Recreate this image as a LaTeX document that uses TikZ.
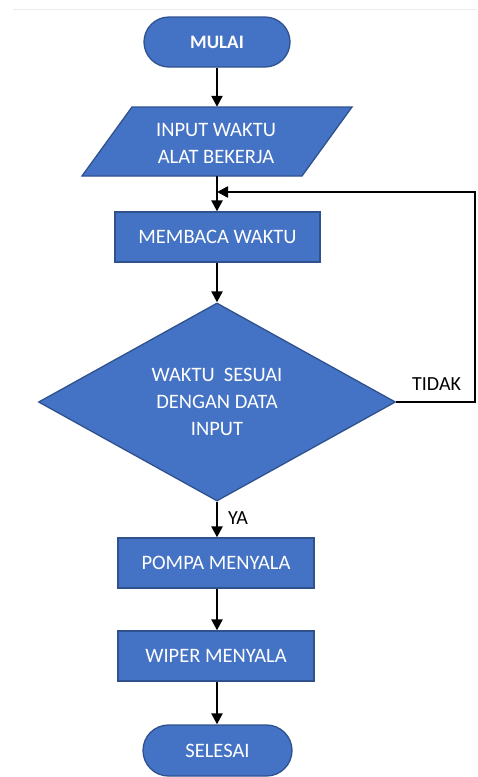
\documentclass[tikz,border=0pt]{standalone}
\usepackage{fontspec}
\setmainfont{Carlito}
\usetikzlibrary{shapes.geometric,shapes.misc,arrows.meta}
\definecolor{boxblue}{HTML}{4472C4}
\definecolor{boxedge}{HTML}{2F528F}
\begin{document}
\begin{tikzpicture}[x=1pt,y=-1pt,
  blk/.style={fill=boxblue,draw=boxedge,line width=1.3pt,text=white,inner sep=0pt,
    font=\fontsize{20.5}{27}\selectfont,align=center},
  term/.style={blk,rounded rectangle},
  proc/.style={blk,rectangle},
  dec/.style={blk,diamond},
  arr/.style={draw=black,line width=2.4pt,-{Triangle[length=11pt,width=11pt]}},
  lbl/.style={font=\fontsize{20}{24}\selectfont,text=black,inner sep=0pt}]
\useasboundingbox (0,0) rectangle (477,777);
\fill[white] (0,0) rectangle (477,777);
\draw[line width=0.8pt,black!8] (13,9) -- (477,9);

\node[term,font=\fontsize{19}{22}\selectfont\bfseries,minimum width=146pt,minimum height=50pt] (mulai) at (217,42) {MULAI};

\node[minimum width=220pt,minimum height=69pt,inner sep=0pt] (input) at (217,141.5) {};
\fill[boxblue,draw=boxedge,line width=1.3pt] (132,107) -- (352,107) -- (302,176) -- (82,176) -- cycle;
\node[text=white,font=\fontsize{20.5}{27}\selectfont,align=center,inner sep=0pt] (inputtxt) at (216,143) {INPUT WAKTU\\ALAT BEKERJA};

\node[proc,minimum width=205pt,minimum height=50pt] (baca) at (217.5,237) {MEMBACA WAKTU};
\node[dec,minimum width=357pt,minimum height=197pt] (dia) at (217,402) {WAKTU\ \ SESUAI\\DENGAN DATA\\INPUT};
\node[proc,minimum width=196pt,minimum height=50pt] (pompa) at (216,563) {POMPA MENYALA};
\node[proc,minimum width=196pt,minimum height=50pt] (wiper) at (216,656) {WIPER MENYALA};
\node[term,minimum width=149pt,minimum height=51pt] (selesai) at (217.5,750.5) {SELESAI};

\coordinate (fbR) at (475,192);
\coordinate (fbJ) at (217,192);

\draw[arr] (mulai.south -| 217,0) -- (input.north -| 217,0);
\draw[arr] (input.south -| 217,0) -- (baca.north -| 217,0);
\draw[arr] (baca.south -| 217,0) -- (dia.north);
\draw[arr] (dia.south) -- (pompa.north -| 217,0);
\draw[arr] (pompa.south -| 217,0) -- (wiper.north -| 217,0);
\draw[arr] (wiper.south -| 217,0) -- (selesai.north -| 217,0);
\draw[arr] (dia.east) -| (fbR) -- (fbJ);

\node[lbl,anchor=west] (tidak) at (412,384) {TIDAK};
\node[lbl,anchor=west] (ya) at (228,518) {YA};
\end{tikzpicture}
\end{document}
